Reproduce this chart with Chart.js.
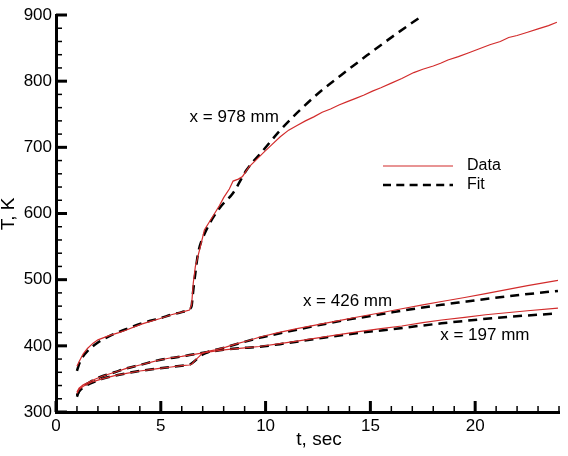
<!DOCTYPE html>
<html>
<head>
<meta charset="utf-8">
<script src="https://cdn.jsdelivr.net/npm/chart.js@4.4.1/dist/chart.umd.min.js"></script>
<style>
  html, body { margin: 0; padding: 0; background: #fff; }
  #wrap { width: 568px; height: 456px; }
</style>
</head>
<body>
<div id="wrap"><canvas id="tempChart" width="568" height="456"></canvas></div>
<script>
// x = 978 mm
const t978 = [1.0, 1.1, 1.3, 1.5, 1.77, 2.0, 2.5, 3.0, 3.36, 4.0, 4.5, 4.94, 5.5, 6.0, 6.37, 6.47, 6.55, 6.65, 6.85, 7.08, 7.47, 7.8, 8.0, 8.27, 8.45, 8.7, 8.9, 9.2, 9.55, 9.9, 10.3, 10.7, 11.1, 11.5, 11.9, 12.3, 12.7, 13.1, 13.5, 13.9, 14.3, 14.7, 15.1, 15.5, 16.0, 16.5, 17.07, 17.5, 18.0, 18.35, 18.7, 19.2, 19.7, 20.2, 20.7, 21.2, 21.6, 22.0, 22.5, 23.0, 23.5, 23.9];
const T978 = [369, 376, 388, 396, 404, 409, 415, 420, 424, 432, 437, 441, 447, 451, 454, 462, 495, 520, 545, 575, 595, 612, 624, 637, 649, 652, 656, 670, 681, 692, 704, 716, 726, 733, 740, 746, 753, 758, 764, 769, 774, 779, 785, 790, 797, 804, 813, 818, 823, 827, 832, 837, 843, 849, 855, 860, 866, 869, 874, 879, 884, 889];
const t978Fit = [1.0, 1.1, 1.25, 1.5, 2.0, 2.5, 3.0, 3.5, 4.0, 4.5, 5.0, 5.5, 6.0, 6.4, 6.47, 6.55, 6.65, 6.78, 7.1, 7.8, 8.45, 9.1, 9.9, 10.7, 11.5, 12.6, 13.6, 14.84, 16.26, 17.3];
const T978Fit = [362, 372, 382, 392, 405, 414, 421, 427, 433, 438, 442, 447, 451, 456, 460, 484, 510, 540, 570, 608, 631, 666, 696, 726, 752, 784, 809, 839, 872, 895];

// x = 426 mm
const t426 = [1.0, 1.1, 1.3, 1.5, 1.77, 2.2, 2.8, 3.36, 4.0, 4.5, 4.94, 5.5, 6.0, 6.37, 6.5, 6.6, 6.8, 7.0, 7.3, 7.6, 8.1, 8.6, 9.2, 9.7, 10.6, 11.5, 12.5, 13.5, 14.45, 15.5, 16.5, 17.5, 18.4, 19.5, 20.5, 21.5, 22.5, 23.95];
const T426 = [328, 334, 339, 342, 346, 350, 355, 358.5, 362, 364, 366, 368, 370, 371, 373, 377, 383, 389, 392, 394, 398, 403, 408, 413, 420, 426, 432, 438, 444, 450, 456, 462, 467, 473, 479, 485, 491, 499];
const t426Fit = [1.0, 1.1, 1.3, 1.5, 1.77, 2.2, 2.8, 3.36, 4.0, 4.94, 6.0, 6.37, 6.5, 6.8, 7.0, 7.3, 8.1, 9.7, 11.0, 12.5, 14.0, 15.0, 16.1, 17.3, 18.4, 19.6, 20.8, 22.3, 23.95];
const T426Fit = [325, 331, 337, 341, 345, 350, 355, 358.5, 362, 366, 370, 371.5, 374, 382, 387, 391, 398, 412, 421, 431, 440, 445, 451, 457, 462, 467, 472, 477.5, 483];

// x = 197 mm
const t197 = [1.0, 1.1, 1.3, 1.5, 1.77, 2.2, 2.8, 3.36, 4.0, 4.5, 4.94, 5.5, 6.0, 6.37, 7.32, 8.0, 9.0, 9.7, 10.6, 11.5, 12.5, 13.5, 14.45, 15.5, 16.5, 17.5, 18.4, 19.5, 20.5, 21.5, 22.5, 23.95];
const T197 = [330, 336, 341, 344, 348.4, 354, 360, 366, 371, 375, 378.6, 382, 384, 386, 391, 394, 397, 399, 403, 407, 412, 417, 421.4, 426, 430, 435, 439, 443, 447, 450, 453, 457];
const t197Fit = [1.0, 1.1, 1.3, 1.5, 1.77, 2.2, 2.8, 3.36, 4.0, 4.94, 6.0, 6.37, 7.32, 8.0, 9.0, 9.7, 11.0, 12.5, 14.45, 16.0, 17.3, 18.4, 19.6, 20.8, 22.3, 23.95];
const T197Fit = [323, 332, 339, 343, 348, 354, 360, 366, 371, 378.6, 384, 386, 391, 394, 397, 398.5, 404, 411, 419.5, 425, 430, 434, 438, 441.6, 445.5, 449];

const curveLabels = ['x = 978 mm', 'x = 426 mm', 'x = 197 mm'];
const legendLabels = ['Data', 'Fit'];

const FONT = "'Liberation Sans', Arial, sans-serif";
const RED = '#d22b2b';

const zip = (xs, ys) => xs.map((x, i) => ({ x: x, y: ys[i] }));

const dataStyle = { borderColor: RED, borderWidth: 1.2, pointRadius: 0, showLine: true, fill: false };
const fitStyle = { borderColor: '#000', borderWidth: 2.5, borderDash: [9, 6], pointRadius: 0, showLine: true, fill: false, cubicInterpolationMode: 'monotone' };

// ticks pointing inward, axis titles, curve labels and legend
const decorations = {
    id: 'decorations',
    afterDraw(chart) {
        const c = chart.ctx;
        const xs = chart.scales.x, ys = chart.scales.y;
        const area = chart.chartArea;
        c.save();
        c.strokeStyle = '#000';

        // x ticks
        for (let v = 0; v <= 24; v++) {
            const px = xs.getPixelForValue(v);
            const major = v % 5 === 0;
            c.lineWidth = major ? 3 : 1.5;
            c.beginPath();
            c.moveTo(px, area.bottom);
            c.lineTo(px, area.bottom - (major ? 11 : 6));
            c.stroke();
        }
        // y ticks
        for (let v = 300; v <= 900; v += 20) {
            const py = ys.getPixelForValue(v);
            const major = v % 100 === 0;
            c.lineWidth = major ? 3 : 1.5;
            c.beginPath();
            c.moveTo(area.left, py);
            c.lineTo(area.left + (major ? 11 : 6), py);
            c.stroke();
        }

        c.fillStyle = '#000';
        // axis titles
        c.font = '19px ' + FONT;
        c.textAlign = 'center';
        c.textBaseline = 'middle';
        c.fillText('t, sec', 319, 440);
        c.save();
        c.translate(9, 214);
        c.rotate(-Math.PI / 2);
        c.fillText('T, K', 0, 0);
        c.restore();

        // curve labels
        c.font = '17px ' + FONT;
        c.textAlign = 'left';
        c.fillText(curveLabels[0], xs.getPixelForValue(6.37), ys.getPixelForValue(745));
        c.fillText(curveLabels[1], xs.getPixelForValue(11.78), ys.getPixelForValue(467));
        c.fillText(curveLabels[2], xs.getPixelForValue(18.33), ys.getPixelForValue(416.5));

        // legend
        const lx0 = 383, lx1 = 453, tx = 467;
        c.strokeStyle = RED;
        c.lineWidth = 1.2;
        c.beginPath();
        c.moveTo(lx0, 166);
        c.lineTo(lx1, 166);
        c.stroke();
        c.strokeStyle = '#000';
        c.lineWidth = 2.5;
        c.setLineDash([8, 5.3]);
        c.beginPath();
        c.moveTo(lx0, 185);
        c.lineTo(lx1, 185);
        c.stroke();
        c.setLineDash([]);
        c.font = '16px ' + FONT;
        c.fillText(legendLabels[0], tx, 166);
        c.fillText(legendLabels[1], tx, 185);
        c.restore();
    }
};

const ctx = document.getElementById('tempChart').getContext('2d');
new Chart(ctx, {
    type: 'scatter',
    data: {
        datasets: [
            { label: 'Data 978', data: zip(t978, T978), ...dataStyle },
            { label: 'Data 426', data: zip(t426, T426), ...dataStyle },
            { label: 'Data 197', data: zip(t197, T197), ...dataStyle },
            { label: 'Fit 978', data: zip(t978Fit, T978Fit), ...fitStyle },
            { label: 'Fit 426', data: zip(t426Fit, T426Fit), ...fitStyle },
            { label: 'Fit 197', data: zip(t197Fit, T197Fit), ...fitStyle }
        ]
    },
    options: {
        responsive: false,
        animation: false,
        devicePixelRatio: 1,
        layout: { padding: { top: 15, right: 9, left: 0, bottom: 0 } },
        plugins: { legend: { display: false }, tooltip: { enabled: false } },
        scales: {
            x: {
                type: 'linear',
                min: 0, max: 24,
                grid: { display: false, drawTicks: false },
                border: { display: true, color: '#000', width: 3 },
                ticks: { stepSize: 5, includeBounds: false, padding: 4, color: '#000', font: { family: FONT, size: 17 } },
                afterFit: (s) => { s.height = 44; }
            },
            y: {
                min: 300, max: 900,
                grid: { display: false, drawTicks: false },
                border: { display: true, color: '#000', width: 3 },
                ticks: { stepSize: 100, padding: 4, color: '#000', font: { family: FONT, size: 17 } },
                afterFit: (s) => { s.width = 56; }
            }
        }
    },
    plugins: [decorations]
});
</script>
</body>
</html>
